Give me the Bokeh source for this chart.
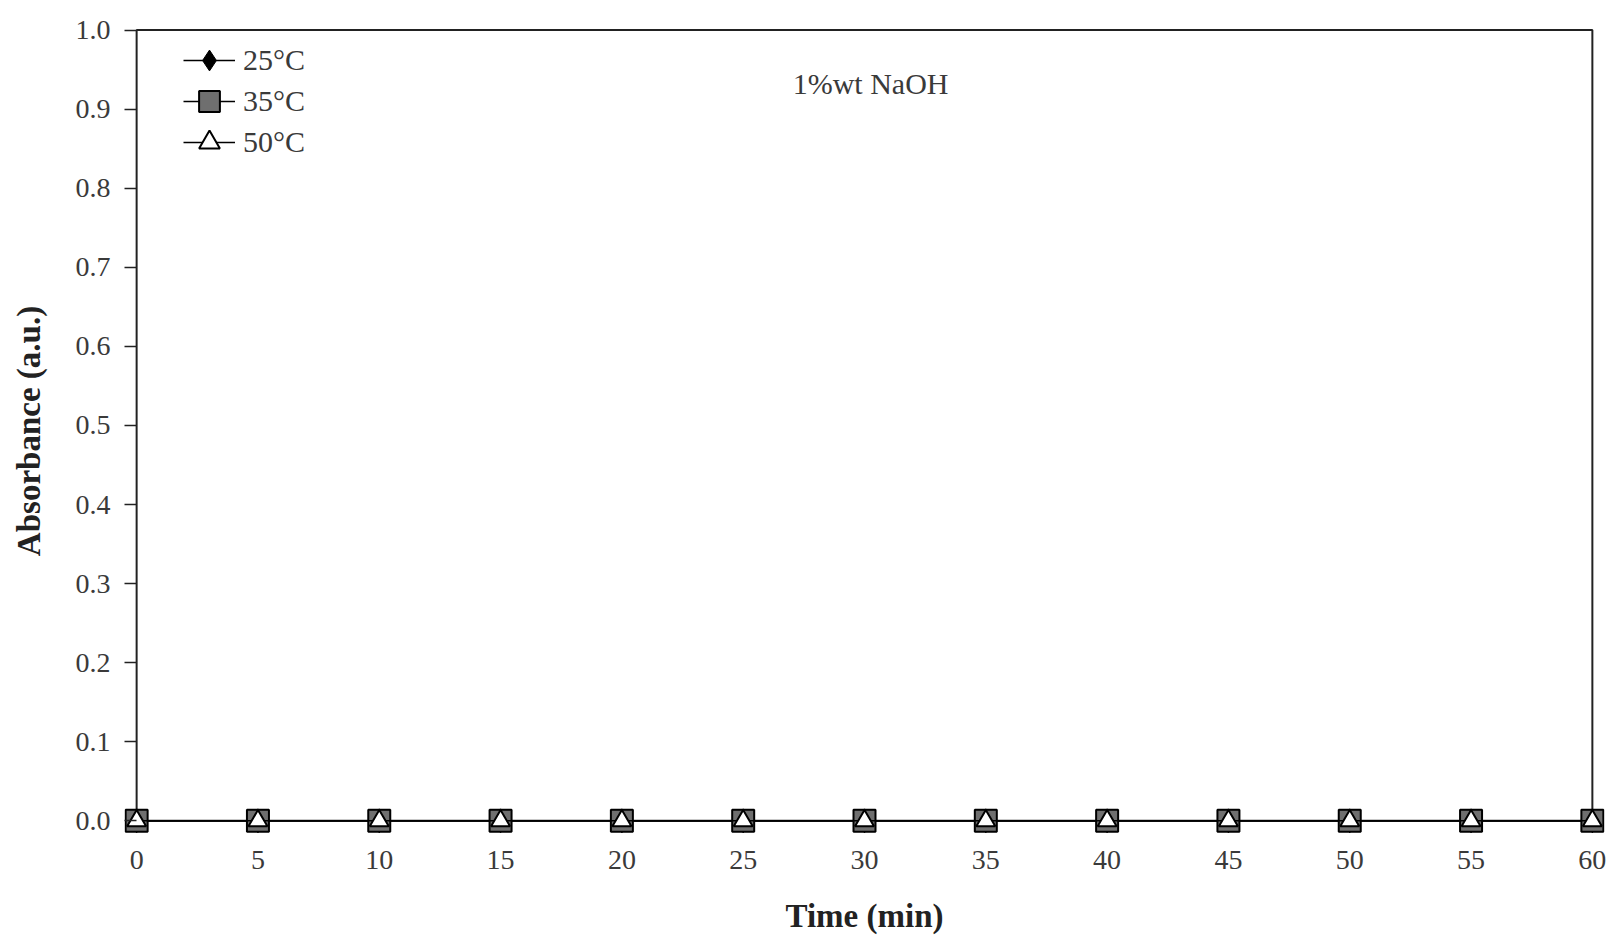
from bokeh.embed import file_html
from bokeh.models import (BoxAnnotation, FixedTicker, Label, Legend, LegendItem,
                          PrintfTickFormatter, Range1d)
from bokeh.plotting import figure
from bokeh.resources import INLINE

# Absorbance of the 1%wt NaOH solution over time at three temperatures
time_min = [0, 5, 10, 15, 20, 25, 30, 35, 40, 45, 50, 55, 60]
abs_25c = [0.0, 0.0, 0.0, 0.0, 0.0, 0.0, 0.0, 0.0, 0.0, 0.0, 0.0, 0.0, 0.0]
abs_35c = [0.0, 0.0, 0.0, 0.0, 0.0, 0.0, 0.0, 0.0, 0.0, 0.0, 0.0, 0.0, 0.0]
abs_50c = [0.0, 0.0, 0.0, 0.0, 0.0, 0.0, 0.0, 0.0, 0.0, 0.0, 0.0, 0.0, 0.0]
series_labels = ["25°C", "35°C", "50°C"]

x_ticks = [0, 5, 10, 15, 20, 25, 30, 35, 40, 45, 50, 55, 60]
y_ticks = [0.0, 0.1, 0.2, 0.3, 0.4, 0.5, 0.6, 0.7, 0.8, 0.9, 1.0]

SERIF = "Liberation Serif"
INK = "#222222"
TEXT = "#3a3a3a"

# a little room around the box so the end markers are not cut off
x_pad, y_pad_lo, y_pad_hi = 0.5, 0.016, 0.002
frame_w, frame_h = 1480, 805

p = figure(
    frame_width=frame_w, frame_height=frame_h,
    min_border_left=124, min_border_right=10,
    min_border_top=28, min_border_bottom=103,
    x_range=Range1d(x_ticks[0] - x_pad, x_ticks[-1] + x_pad),
    y_range=Range1d(y_ticks[0] - y_pad_lo, y_ticks[-1] + y_pad_hi),
    output_backend="svg", toolbar_location=None,
    background_fill_color="white", border_fill_color="white",
)
p.outline_line_color = None
p.grid.visible = False

# plot box drawn from the axis limits
p.add_layout(BoxAnnotation(
    left=x_ticks[0], right=x_ticks[-1], bottom=y_ticks[0], top=y_ticks[-1],
    fill_alpha=0, line_color=INK, line_alpha=1.0, line_width=2,
    level="underlay"))

# x axis: labels only
xa = p.xaxis[0]
xa.ticker = FixedTicker(ticks=x_ticks)
xa.axis_line_color = None
xa.major_tick_line_color = None
xa.minor_tick_line_color = None
xa.major_label_standoff = 11
xa.major_label_text_font = SERIF
xa.major_label_text_font_size = "28px"
xa.major_label_text_color = TEXT
xa.axis_label = "Time (min)"
xa.axis_label_text_font = SERIF
xa.axis_label_text_font_style = "bold"
xa.axis_label_text_font_size = "33px"
xa.axis_label_text_color = INK
xa.axis_label_standoff = 26

# y axis: ticks reach from the axis position to the box edge
ya = p.yaxis[0]
ya.ticker = FixedTicker(ticks=y_ticks)
ya.formatter = PrintfTickFormatter(format="%.1f")
ya.axis_line_color = None
ya.major_tick_in = 12
ya.major_tick_out = 0
ya.major_tick_line_color = INK
ya.major_tick_line_width = 1.5
ya.minor_tick_line_color = None
ya.major_label_standoff = 14
ya.major_label_text_font = SERIF
ya.major_label_text_font_size = "28px"
ya.major_label_text_color = TEXT
ya.axis_label = "Absorbance (a.u.)"
ya.axis_label_text_font = SERIF
ya.axis_label_text_font_style = "bold"
ya.axis_label_text_font_size = "33px"
ya.axis_label_text_color = INK
ya.axis_label_standoff = 26

# series
l25 = p.line(time_min, abs_25c, line_color="black", line_width=1.5)
m25 = p.scatter(time_min, abs_25c, marker="diamond", size=24,
                fill_color="black", line_color="black")
l35 = p.line(time_min, abs_35c, line_color="black", line_width=1.5)
m35 = p.scatter(time_min, abs_35c, marker="square", size=22,
                fill_color="#6f6f6f", line_color="black", line_width=2)
l50 = p.line(time_min, abs_50c, line_color="black", line_width=1.5)
m50 = p.scatter(time_min, abs_50c, marker="triangle", size=19,
                fill_color="white", line_color="black", line_width=2)

# one single-entry legend per series, stacked in the upper-left corner;
# tall glyph slots keep the legend markers as large as those on the plot
glyph_h, row_step, first_row_top = 52, 41, 6
for i, (lbl, rs) in enumerate(zip(series_labels,
                                   [[l25, m25], [l35, m35], [l50, m50]])):
    top = first_row_top + i * row_step
    p.add_layout(Legend(
        items=[LegendItem(label=lbl, renderers=rs)],
        location=(59, frame_h - top - glyph_h),
        glyph_width=52, glyph_height=glyph_h, label_height=glyph_h,
        padding=0, margin=0, label_standoff=8,
        label_text_font=SERIF, label_text_font_size="30px",
        label_text_color=TEXT,
        border_line_color=None, background_fill_alpha=0,
    ))

p.add_layout(Label(x=30.25, y=0.932, text="1%wt NaOH", text_font=SERIF,
                   text_font_size="30px", text_color=TEXT,
                   text_align="center", text_baseline="middle"))

open("out.html", "w").write(file_html(p, INLINE))
